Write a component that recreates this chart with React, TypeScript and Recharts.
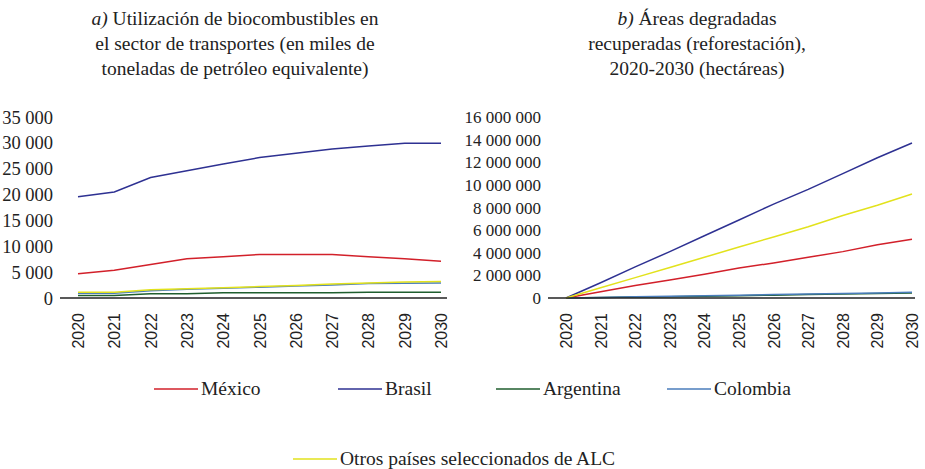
import { LineChart, Line, XAxis, YAxis } from 'recharts'

const years = ['2020', '2021', '2022', '2023', '2024', '2025', '2026', '2027', '2028', '2029', '2030']

// a) miles de toneladas de petróleo equivalente
const mexicoA = [4700, 5350, 6500, 7600, 8000, 8400, 8400, 8400, 8000, 7600, 7100]
const brasilA = [19600, 20500, 23300, 24600, 25900, 27150, 28000, 28800, 29400, 29900, 29900]
const argentinaA = [500, 500, 800, 800, 1000, 1000, 1000, 1000, 1100, 1100, 1100]
const colombiaA = [900, 900, 1400, 1700, 1900, 2100, 2300, 2500, 2800, 2850, 2900]
const otrosA = [1100, 1100, 1600, 1800, 2000, 2200, 2400, 2700, 2900, 3100, 3200]

// b) hectáreas
const mexicoB = [0, 550000, 1100000, 1600000, 2100000, 2650000, 3100000, 3600000, 4100000, 4700000, 5200000]
const brasilB = [0, 1350000, 2750000, 4100000, 5500000, 6900000, 8300000, 9600000, 11000000, 12400000, 13700000]
const argentinaB = [0, 40000, 80000, 120000, 160000, 200000, 250000, 300000, 350000, 400000, 450000]
const colombiaB = [0, 50000, 100000, 150000, 200000, 250000, 300000, 350000, 400000, 450000, 500000]
const otrosB = [0, 900000, 1800000, 2700000, 3600000, 4500000, 5400000, 6300000, 7300000, 8200000, 9200000]

const ticksA = [0, 5000, 10000, 15000, 20000, 25000, 30000, 35000]
const ticksB = [0, 2000000, 4000000, 6000000, 8000000, 10000000, 12000000, 14000000, 16000000]

const seriesNames = ['México', 'Brasil', 'Argentina', 'Colombia', 'Otros países seleccionados de ALC']
const colors = ['#d2202a', '#2e3192', '#1f5e2e', '#4a7dbb', '#e2e21c']

const dataA = years.map((y, i) => ({
  year: y,
  mexico: mexicoA[i],
  brasil: brasilA[i],
  argentina: argentinaA[i],
  colombia: colombiaA[i],
  otros: otrosA[i],
}))

const dataB = years.map((y, i) => ({
  year: y,
  mexico: mexicoB[i],
  brasil: brasilB[i],
  argentina: argentinaB[i],
  colombia: colombiaB[i],
  otros: otrosB[i],
}))

const keys = ['mexico', 'brasil', 'argentina', 'colombia', 'otros']

const serif = '"Liberation Serif", "DejaVu Serif", serif'

function fmt(v: number) {
  return v.toString().replace(/\B(?=(\d{3})+(?!\d))/g, ' ')
}

// eslint-disable-next-line @typescript-eslint/no-explicit-any
function YearTick({ x, y, payload }: any) {
  const bx = x + 6
  const by = y + 15
  return (
    <text
      x={bx}
      y={by}
      transform={`rotate(-90 ${bx} ${by})`}
      textAnchor="end"
      fontFamily='"Liberation Sans", Arial, sans-serif'
      fontSize={16}
      fill="#222"
    >
      {payload.value}
    </text>
  )
}

function Title({ lines, cx }: { lines: [string, string][]; cx: number }) {
  return (
    <div
      style={{
        position: 'absolute',
        left: cx - 200,
        top: 6,
        width: 400,
        textAlign: 'center',
        fontFamily: serif,
        fontSize: 19.5,
        lineHeight: '25px',
        color: '#222',
      }}
    >
      {lines.map(([it, rest], i) => (
        <div key={i}>
          {it && <i>{it}</i>}
          {rest}
        </div>
      ))}
    </div>
  )
}

function LegendItem({ i, left, top }: { i: number; left: number; top: number }) {
  return (
    <div
      style={{
        position: 'absolute',
        left,
        top,
        display: 'flex',
        alignItems: 'center',
        fontFamily: serif,
        fontSize: 19.5,
        color: '#222',
        whiteSpace: 'nowrap',
      }}
    >
      <svg width={44} height={4} style={{ marginRight: 3 }}>
        <line x1={0} y1={2} x2={44} y2={2} stroke={colors[i]} strokeWidth={1.5} />
      </svg>
      {seriesNames[i]}
    </div>
  )
}

export default function App() {
  return (
    <div style={{ position: 'absolute', left: 0, top: 0, width: 925, height: 469, background: '#fff' }}>
      <Title
        cx={235}
        lines={[
          ['a)', ' Utilización de biocombustibles en'],
          ['', 'el sector de transportes (en miles de'],
          ['', 'toneladas de petróleo equivalente)'],
        ]}
      />
      <Title
        cx={697}
        lines={[
          ['b)', ' Áreas degradadas'],
          ['', 'recuperadas (reforestación),'],
          ['', '2020-2030 (hectáreas)'],
        ]}
      />

      <div style={{ position: 'absolute', left: 0, top: 100 }}>
        <LineChart width={460} height={260} data={dataA} margin={{ top: 17, right: 13, bottom: 0, left: 0 }}>
          <XAxis
            dataKey="year"
            interval={0}
            tickLine={false}
            tickSize={0}
            tickMargin={0}
            height={62}
            padding={{ left: 18, right: 6 }}
            axisLine={{ stroke: '#222', strokeWidth: 1.5 }}
            tick={<YearTick />}
          />
          <YAxis
            domain={[0, 35000]}
            ticks={ticksA}
            interval={0}
            tickFormatter={fmt}
            width={60}
            axisLine={false}
            tickLine={false}
            tickMargin={1}
            tick={{ fontFamily: serif, fontSize: 18.5, fill: '#222' }}
          />
          {keys.map((k, i) => (
            <Line
              key={k}
              dataKey={k}
              type="linear"
              stroke={colors[i]}
              strokeWidth={1.5}
              dot={false}
              isAnimationActive={false}
            />
          ))}
        </LineChart>
      </div>

      <div style={{ position: 'absolute', left: 460, top: 100 }}>
        <LineChart width={465} height={260} data={dataB} margin={{ top: 17, right: 10, bottom: 0, left: 0 }}>
          <XAxis
            dataKey="year"
            interval={0}
            tickLine={false}
            tickSize={0}
            tickMargin={0}
            height={62}
            padding={{ left: 18, right: 3 }}
            axisLine={{ stroke: '#222', strokeWidth: 1.5 }}
            tick={<YearTick />}
          />
          <YAxis
            domain={[0, 16000000]}
            ticks={ticksB}
            interval={0}
            tickFormatter={fmt}
            width={88}
            axisLine={false}
            tickLine={false}
            tickMargin={1}
            tick={{ fontFamily: serif, fontSize: 17, fill: '#222' }}
          />
          {keys.map((k, i) => (
            <Line
              key={k}
              dataKey={k}
              type="linear"
              stroke={colors[i]}
              strokeWidth={1.5}
              dot={false}
              isAnimationActive={false}
            />
          ))}
        </LineChart>
      </div>

      <LegendItem i={0} left={154} top={378} />
      <LegendItem i={1} left={338} top={378} />
      <LegendItem i={2} left={496} top={378} />
      <LegendItem i={3} left={667} top={378} />
      <LegendItem i={4} left={293} top={448} />
    </div>
  )
}
